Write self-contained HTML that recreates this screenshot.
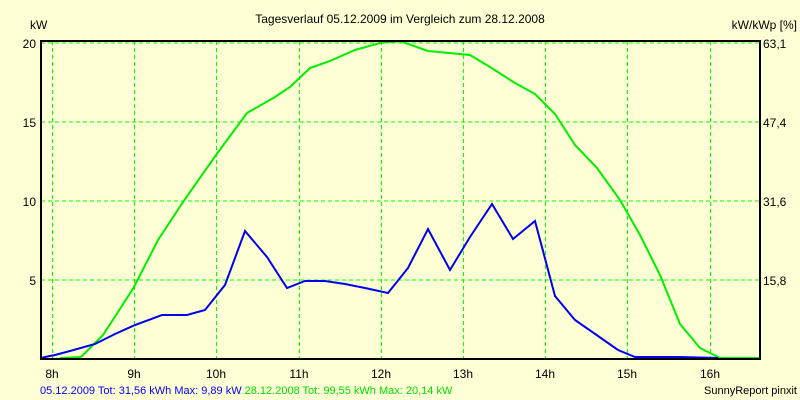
<!DOCTYPE html>
<html><head><style>
html,body{margin:0;padding:0;background:#FFFFD5;}
svg{display:block;font-family:"Liberation Sans",sans-serif;}
</style></head><body>
<svg width="800" height="400" xmlns="http://www.w3.org/2000/svg">
<rect width="800" height="400" fill="#FFFFD5"/>
<text x="400" y="23" font-size="12" text-anchor="middle" fill="#000">Tagesverlauf 05.12.2009 im Vergleich zum 28.12.2008</text>
<text x="30" y="29" font-size="12" fill="#000">kW</text>
<text x="797" y="29" font-size="12" text-anchor="end" fill="#000">kW/kWp [%]</text>
<g stroke="#00ff00" stroke-width="1" stroke-dasharray="4,3" fill="none">
<line x1="41" y1="43" x2="760" y2="43"/>
<line x1="41" y1="122" x2="760" y2="122"/>
<line x1="41" y1="201" x2="760" y2="201"/>
<line x1="41" y1="280" x2="760" y2="280"/>
<line x1="52.5" y1="41" x2="52.5" y2="359"/>
<line x1="134.5" y1="41" x2="134.5" y2="359"/>
<line x1="216.5" y1="41" x2="216.5" y2="359"/>
<line x1="299.5" y1="41" x2="299.5" y2="359"/>
<line x1="381.5" y1="41" x2="381.5" y2="359"/>
<line x1="463.5" y1="41" x2="463.5" y2="359"/>
<line x1="545.5" y1="41" x2="545.5" y2="359"/>
<line x1="627.5" y1="41" x2="627.5" y2="359"/>
<line x1="710.5" y1="41" x2="710.5" y2="359"/>
</g>
<g font-size="12" fill="#000">
<text x="36" y="48" text-anchor="end">20</text>
<text x="36" y="127" text-anchor="end">15</text>
<text x="36" y="206" text-anchor="end">10</text>
<text x="36" y="285" text-anchor="end">5</text>
<text x="763" y="48">63,1</text>
<text x="763" y="127">47,4</text>
<text x="763" y="206">31,6</text>
<text x="763" y="285">15,8</text>
<g text-anchor="middle">
<text x="52" y="378">8h</text><text x="134" y="378">9h</text><text x="216" y="378">10h</text>
<text x="299" y="378">11h</text><text x="381" y="378">12h</text><text x="463" y="378">13h</text>
<text x="545" y="378">14h</text><text x="627" y="378">15h</text><text x="710" y="378">16h</text>
</g>
<text x="797" y="394" font-size="11" text-anchor="end">SunnyReport pinxit</text>
</g>
<polyline fill="none" stroke="#00ee00" stroke-width="2" points="60,358 81,357 103,335 118,312 134,287 158,240 183,202 216,155 247,113 275,97 290,87 310,68 330,61 355,50 380,43 400,41 428,51 470,55 490,67 515,83 535,94 555,114 575,145 597,168 620,200 640,235 660,275 680,324 700,348 720,358 760,358"/>
<polyline fill="none" stroke="#0000ee" stroke-width="2" points="40,358 55,355 70,351 95,344 115,334 135,325 162,315 187,315 205,310 225,285 245,231 267,257 287,288 305,281 325,281 345,284 365,288 388,293 408,268 428,229 450,270 470,237 492,204 513,239 535,221 555,296 575,320 598,336 618,350 635,357 680,357 718,358"/>
<polyline fill="none" stroke="#000" stroke-width="2" points="41,359 41,41 760,41 760,359 40,359"/>
<text x="40" y="394" font-size="11"><tspan fill="#0000ff">05.12.2009 Tot: 31,56 kWh Max: 9,89 kW </tspan><tspan fill="#00dd00">28.12.2008 Tot: 99,55 kWh Max: 20,14 kW</tspan></text>
</svg>
</body></html>
